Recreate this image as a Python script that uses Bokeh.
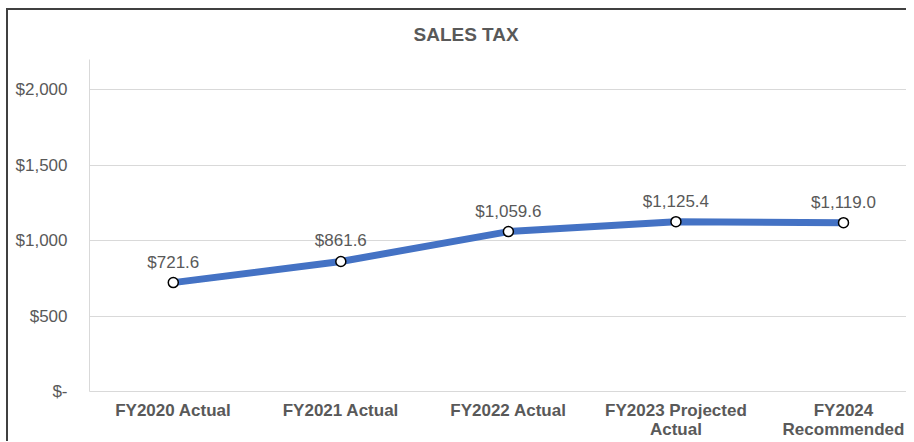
from bokeh.plotting import figure
from bokeh.models import ColumnDataSource, FixedTicker, LabelSet, Range1d
from bokeh.core.properties import value
from bokeh.embed import file_html
from bokeh.resources import INLINE

categories = ["FY2020 Actual", "FY2021 Actual", "FY2022 Actual",
              "FY2023 Projected\nActual", "FY2024\nRecommended"]
values = [721.6, 861.6, 1059.6, 1125.4, 1119.0]
value_labels = ["$721.6", "$861.6", "$1,059.6", "$1,125.4", "$1,119.0"]
y_ticks = [0, 500, 1000, 1500, 2000]
y_tick_labels = ["$-", "$500", "$1,000", "$1,500", "$2,000"]

FONT = "Liberation Sans"
GRAY = "#595959"

xs = list(range(len(categories)))
src = ColumnDataSource(dict(x=xs, y=values, lbl=value_labels))

p = figure(frame_width=817, frame_height=332, output_backend="svg",
           toolbar_location=None,
           x_range=Range1d(-0.5, 4.376), y_range=Range1d(0, 2200),
           min_border_left=89, min_border_right=0, min_border_top=59,
           min_border_bottom=30, title="SALES TAX")
p.outline_line_color = None
p.background_fill_color = "white"
p.border_fill_color = "white"
p.border_fill_alpha = 0
p.styles = {
    "background": ("linear-gradient(#404040, #404040) 6px 8px / 2px 100% no-repeat, "
                   "linear-gradient(#404040, #404040) 6px 8px / 100% 2px no-repeat, "
                   "white")
}

p.title.align = "left"
p.title.offset = 324
p.title.standoff = 30
p.title.text_font = FONT
p.title.text_font_size = "19px"
p.title.text_font_style = "bold"
p.title.text_color = GRAY

p.xgrid.grid_line_color = None
p.ygrid.grid_line_color = "#d9d9d9"
p.ygrid.ticker = FixedTicker(ticks=y_ticks)

p.yaxis.ticker = FixedTicker(ticks=y_ticks)
p.yaxis.major_label_overrides = dict(zip(y_ticks, y_tick_labels))
p.yaxis.axis_line_color = "#d9d9d9"
p.yaxis.major_tick_line_color = None
p.yaxis.minor_tick_line_color = None
p.yaxis.major_tick_out = 0
p.yaxis.major_label_standoff = 22
p.yaxis.major_label_text_font = FONT
p.yaxis.major_label_text_font_size = "17px"
p.yaxis.major_label_text_color = GRAY

p.xaxis.ticker = FixedTicker(ticks=xs)
p.xaxis.major_label_overrides = dict(zip(xs, categories))
p.xaxis.axis_line_color = "#d9d9d9"
p.xaxis.major_tick_line_color = None
p.xaxis.minor_tick_line_color = None
p.xaxis.major_tick_out = 0
p.xaxis.major_label_standoff = 9
p.xaxis.major_label_text_font = FONT
p.xaxis.major_label_text_font_size = "17px"
p.xaxis.major_label_text_line_height = 1.0
p.xaxis.major_label_text_font_style = "bold"
p.xaxis.major_label_text_color = GRAY

p.line("x", "y", source=src, line_color="#4472C4", line_width=7,
       line_join="round", line_cap="round")
p.scatter("x", "y", source=src, size=10, fill_color="white",
          line_color="black", line_width=1.5)

labels = LabelSet(x="x", y="y", text="lbl", source=src, text_align="center",
                  text_baseline="alphabetic", y_offset=15,
                  text_font=value(FONT),
                  text_font_size=value("17px"), text_color=GRAY)
p.add_layout(labels)

open("out.html", "w").write(file_html(p, INLINE))
